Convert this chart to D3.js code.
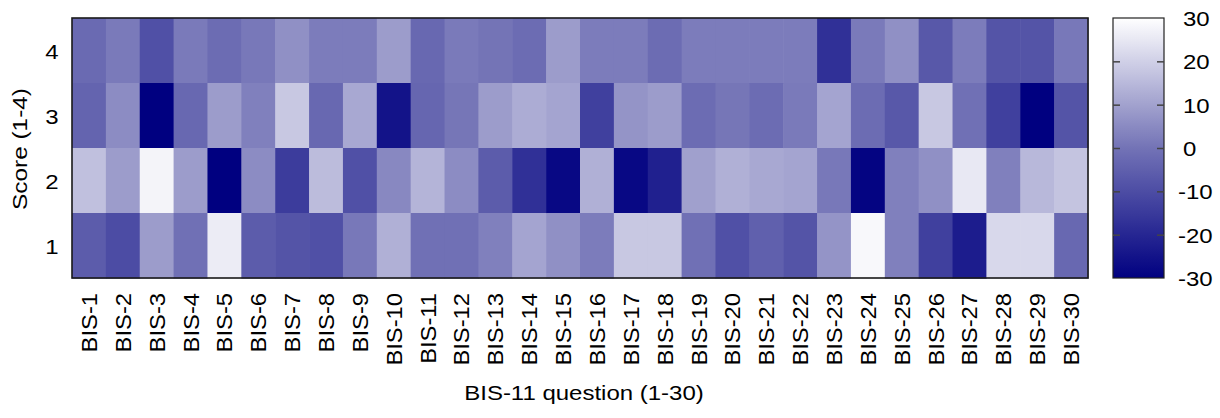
<!DOCTYPE html>
<html><head><meta charset="utf-8">
<script src="https://cdn.jsdelivr.net/npm/d3@7"></script>
<style>
body{margin:0;background:#fff}
svg{display:block}
text{font-family:"Liberation Sans",Arial,Helvetica,sans-serif;fill:#000}
</style>
</head><body>
<svg id="c" width="1220" height="418"></svg>
<script>
const questions = ["BIS-1","BIS-2","BIS-3","BIS-4","BIS-5","BIS-6","BIS-7","BIS-8","BIS-9","BIS-10",
  "BIS-11","BIS-12","BIS-13","BIS-14","BIS-15","BIS-16","BIS-17","BIS-18","BIS-19","BIS-20",
  "BIS-21","BIS-22","BIS-23","BIS-24","BIS-25","BIS-26","BIS-27","BIS-28","BIS-29","BIS-30"];
const scores = ["4","3","2","1"];
const score4 = [-2.3,1.5,-9.1,1.5,-1.8,1.1,6.2,1.9,1.9,8.8,-2.9,1.5,0.2,-1.8,8.8,1.9,1.9,-1.8,1.9,1.9,1.9,1.9,-17.5,1.5,6.2,-7.0,1.9,-8.1,-8.1,1.1];
const score3 = [-3.9,5.4,-30,-2.9,8.8,2.8,18.2,-2.9,11.4,-25,-3.4,0.6,8.8,12.2,10.5,-13.3,7.1,8.8,-1.8,0.6,-1.8,1.5,10.5,-1.8,-7.0,18.2,-0.8,-13.3,-30,-8.1];
const score2 = [16.5,8.8,27.6,8.8,-30,5.4,-14.3,15.6,-9.1,4.5,13.9,5.4,-6.0,-17.5,-28,13.1,-28,-21.7,9.6,13.1,11.4,10.5,1.1,-29,2.8,6.2,25.1,2.8,14.8,17.4];
const score1 = [-6.0,-10.2,8.8,-0.8,25.9,-6.0,-8.1,-9.1,1.1,13.1,-0.8,-0.8,2.8,10.5,6.2,1.9,18.2,18.2,-0.8,-9.1,-5.0,-8.1,7.1,28.5,2.8,-13.3,-22.7,21.6,21.6,-2.9];
const colorTicks = [-30,-20,-10,0,10,20,30];

const svg = d3.select("#c");
const L = 72, R = 1088, T = 18, B = 278;
const FS = 20, SX = 1.2;

const x = d3.scaleBand().domain(questions).range([L, R]);
const y = d3.scaleBand().domain(scores).range([T, B]);
const color = d3.scaleLinear().domain([-30, 0, 30]).range(["#000080", "#7373b6", "#ffffff"]).clamp(true);

const rows = [score4, score3, score2, score1];
const cells = [];
scores.forEach((s, i) => rows[i].forEach((v, j) => cells.push({q: questions[j], s, v})));

svg.append("g").selectAll("rect").data(cells).join("rect")
  .attr("x", d => x(d.q)).attr("y", d => y(d.s))
  .attr("width", x.bandwidth() + 0.6).attr("height", y.bandwidth() + 0.6)
  .attr("fill", d => color(d.v));

svg.append("rect").attr("x", L).attr("y", T).attr("width", R - L).attr("height", B - T)
  .attr("fill", "none").attr("stroke", "#1a1a1a").attr("stroke-width", 1.6);

// y axis
const gy = svg.append("g").attr("transform", `translate(${L},0)`).call(d3.axisLeft(y).tickSize(0));
gy.select(".domain").remove();
gy.selectAll("text").attr("x", 0).attr("y", 0).attr("dy", null)
  .attr("font-size", FS).attr("font-family", null).attr("text-anchor", "end")
  .attr("transform", `translate(-13.5,8.6) scale(${SX},1)`);

// x axis
const gx = svg.append("g").attr("transform", `translate(0,${B})`).call(d3.axisBottom(x).tickSize(0));
gx.select(".domain").remove();
gx.selectAll("text").attr("x", 0).attr("y", 0).attr("dy", null)
  .attr("font-size", 22).attr("font-family", null).attr("text-anchor", "end")
  .attr("transform", `translate(8,15) rotate(-90) scale(1.08,1)`);

// titles
svg.append("text").attr("text-anchor", "middle").attr("font-size", FS)
  .attr("transform", `translate(584,399.5) scale(${SX},1)`).text("BIS-11 question (1-30)");
svg.append("text").attr("text-anchor", "middle").attr("font-size", 21)
  .attr("transform", `translate(27,149) rotate(-90) scale(1.16,1)`).text("Score (1-4)");

// colorbar
const CX0 = 1113, CX1 = 1164;
const grad = svg.append("defs").append("linearGradient").attr("id", "cb")
  .attr("x1", 0).attr("y1", 1).attr("x2", 0).attr("y2", 0);
d3.range(-30, 30.01, 2.5).forEach(v => grad.append("stop")
  .attr("offset", (v + 30) / 60).attr("stop-color", color(v)));
svg.append("rect").attr("x", CX0).attr("y", T).attr("width", CX1 - CX0).attr("height", B - T)
  .attr("fill", "url(#cb)").attr("stroke", "#222").attr("stroke-width", 1.2);

const cy = d3.scaleLinear().domain([-30, 30]).range([B, T]);
const inner = colorTicks.slice(1, -1);
const gl = svg.append("g").attr("transform", `translate(${CX0},0)`)
  .call(d3.axisLeft(cy).tickValues(inner).tickSize(-7).tickFormat(""));
gl.select(".domain").remove();
gl.selectAll("line").attr("stroke", "#444").attr("stroke-width", 1.5);
const gr = svg.append("g").attr("transform", `translate(${CX1},0)`)
  .call(d3.axisRight(cy).tickValues(colorTicks).tickSize(-7).tickFormat(d3.format("d")));
gr.select(".domain").remove();
gr.selectAll("line").attr("stroke", "#444").attr("stroke-width", 1.5)
  .attr("opacity", d => (d === -30 || d === 30) ? 0 : 1);
gr.selectAll("text").attr("x", 0).attr("y", 0).attr("dy", null)
  .attr("font-size", FS).attr("font-family", null).attr("text-anchor", "start")
  .attr("transform", d => `translate(${d < 0 ? 14 : 19},7.5) scale(${SX},1)`)
  .text(d => d < 0 ? "-" + Math.abs(d) : String(d));
</script>
</body></html>
